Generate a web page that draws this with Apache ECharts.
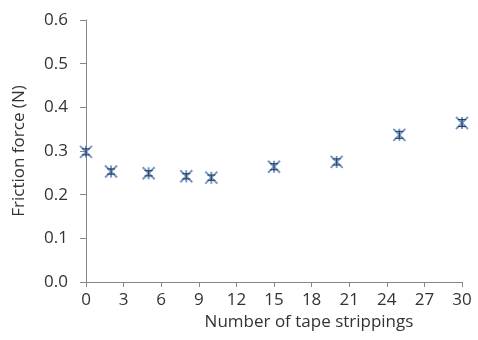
<!DOCTYPE html>
<html><head><meta charset="utf-8">
<script src="https://cdn.jsdelivr.net/npm/echarts@6/dist/echarts.min.js"></script>
<style>html,body{margin:0;padding:0;background:#fff}#c{width:478px;height:340px}</style>
</head><body><div id="c"></div>
<script>
const strips = [0, 2, 5, 8, 10, 15, 20, 25, 30];
const friction = [0.298, 0.253, 0.249, 0.242, 0.239, 0.264, 0.275, 0.337, 0.364];
const errors = [0.007, 0.006, 0.006, 0.006, 0.006, 0.007, 0.007, 0.008, 0.008];
const xTicks = [0, 3, 6, 9, 12, 15, 18, 21, 24, 27, 30];
const yTicks = [0.0, 0.1, 0.2, 0.3, 0.4, 0.5, 0.6];

const chart = echarts.init(document.getElementById('c'));
const col = '#4f7fbd';
const font = 'Open Sans';
const txt = '#333333';
chart.setOption({
  animation: false,
  grid: {left: 86, right: 16, top: 20, bottom: 58, containLabel: false, outerBoundsMode: 'none'},
  xAxis: {
    type: 'value', min: xTicks[0], max: xTicks[xTicks.length-1], interval: 3,
    name: 'Number of tape strippings', nameLocation: 'middle', nameGap: 32,
    nameTextStyle: {fontFamily: font, fontSize: 17, color: txt, padding: [0,0,0,70]},
    axisLine: {lineStyle: {color: '#868686'}},
    axisTick: {show: true, length: 5, lineStyle: {color: '#868686'}},
    axisLabel: {fontFamily: font, fontSize: 17, color: txt, margin: 10},
    splitLine: {show: false}
  },
  yAxis: {
    type: 'value', min: 0, max: 0.6, interval: 0.1,
    name: 'Friction force (N)', nameLocation: 'middle', nameGap: 58, nameRotate: 90,
    nameTextStyle: {fontFamily: font, fontSize: 17, color: txt},
    axisLine: {show: true, lineStyle: {color: '#868686'}},
    axisTick: {show: true, length: 6, lineStyle: {color: '#868686'}},
    axisLabel: {fontFamily: font, fontSize: 17, color: txt, margin: 18,
      formatter: v => v.toFixed(1)},
    splitLine: {show: false}
  },
  series: [
    {
      type: 'custom',
      renderItem: function (params, api) {
        const x = api.value(0), y = api.value(1), e = api.value(2);
        const hi = api.coord([x, y + e]), lo = api.coord([x, y - e]);
        const w = 4;
        return {type: 'group', children: [
          {type: 'line', shape: {x1: hi[0], y1: hi[1], x2: lo[0], y2: lo[1]}, style: {stroke: '#2a3550', lineWidth: 1}},
          {type: 'line', shape: {x1: hi[0]-w, y1: hi[1], x2: hi[0]+w, y2: hi[1]}, style: {stroke: '#2a3550', lineWidth: 1}},
          {type: 'line', shape: {x1: lo[0]-w, y1: lo[1], x2: lo[0]+w, y2: lo[1]}, style: {stroke: '#2a3550', lineWidth: 1}}
        ]};
      },
      data: strips.map((s, i) => [s, friction[i], errors[i]]),
      z: 3
    },
    {
      type: 'scatter',
      data: strips.map((s, i) => [s, friction[i]]),
      symbol: 'path://M0,0L10,10M10,0L0,10M5,0L5,10',
      symbolSize: 12,
      itemStyle: {color: col, borderColor: col, borderWidth: 2},
      z: 2
    }
  ]
});
</script></body></html>
